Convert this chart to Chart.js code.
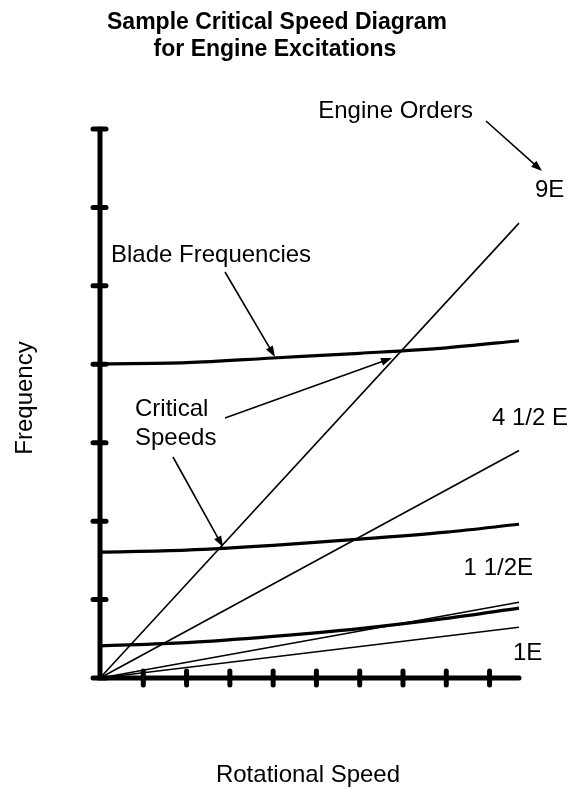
<!DOCTYPE html>
<html lang="en-US">
<head>
  <meta charset="utf-8">
  <title>Sample Critical Speed Diagram</title>
  <script src="https://cdn.jsdelivr.net/npm/chart.js@4.4.1/dist/chart.umd.min.js"></script>
  <style>
  body { margin: 0; background: #fff; }
  canvas { display: block; }
  </style>
</head>

<body>
  <canvas id="chart" width="572" height="789"></canvas>
  <script>
    // speed axis runs 0..9.68, frequency axis 0..7 (no tick labels in the original)
    var speedMax = 9.68;
    var speedTicks = [1, 2, 3, 4, 5, 6, 7, 8, 9];
    var freqTicks = [0, 1, 2, 3, 4, 5, 6, 7];

    var orderLabels = ['1E', '1 1/2E', '4 1/2 E', '9E'];
    var orderEndFreq = [0.647, 0.966, 2.90, 5.80];   // value of each line at speedMax

    var bladeSpeeds = [0, 2, 4, 6, 8, 9.68];
    var bladeHigh = [4.005, 4.02, 4.08, 4.14, 4.21, 4.30];
    var bladeMid = [1.605, 1.63, 1.69, 1.77, 1.86, 1.96];
    var bladeLow = [0.41, 0.45, 0.53, 0.63, 0.76, 0.89];

    var FONT = '"Liberation Sans", Arial, sans-serif';

    var datasets = [];
    orderEndFreq.forEach(function (f, i) {
      datasets.push({
        label: orderLabels[i],
        data: [{x: 0, y: 0}, {x: speedMax, y: f}],
        borderColor: '#000',
        borderWidth: 1.6,
        pointRadius: 0,
        clip: false
      });
    });
    [bladeHigh, bladeMid, bladeLow].forEach(function (arr, i) {
      datasets.push({
        label: 'blade ' + i,
        data: bladeSpeeds.map(function (s, j) { return {x: s, y: arr[j]}; }),
        borderColor: '#000',
        borderWidth: 3.2,
        pointRadius: 0,
        cubicInterpolationMode: 'monotone',
        clip: false
      });
    });

    function arrow(ctx, x1, y1, x2, y2) {
      var a = Math.atan2(y2 - y1, x2 - x1);
      var len = 11, half = 4;
      ctx.beginPath();
      ctx.moveTo(x1, y1);
      ctx.lineTo(x2 - Math.cos(a) * len * 0.8, y2 - Math.sin(a) * len * 0.8);
      ctx.stroke();
      ctx.beginPath();
      ctx.moveTo(x2, y2);
      ctx.lineTo(x2 - Math.cos(a) * len + Math.sin(a) * half, y2 - Math.sin(a) * len - Math.cos(a) * half);
      ctx.lineTo(x2 - Math.cos(a) * len - Math.sin(a) * half, y2 - Math.sin(a) * len + Math.cos(a) * half);
      ctx.closePath();
      ctx.fill();
    }

    var decor = {
      id: 'decor',
      afterDatasetsDraw: function (chart) {
        var ctx = chart.ctx;
        var xs = chart.scales.x, ys = chart.scales.y;
        ctx.save();
        ctx.strokeStyle = '#000';
        ctx.fillStyle = '#000';
        ctx.lineCap = 'round';
        ctx.lineWidth = 5;
        // axes
        ctx.beginPath();
        ctx.moveTo(xs.getPixelForValue(0), ys.getPixelForValue(7));
        ctx.lineTo(xs.getPixelForValue(0), ys.getPixelForValue(0));
        ctx.lineTo(xs.getPixelForValue(speedMax), ys.getPixelForValue(0));
        ctx.stroke();
        // tick bars crossing the axes
        var x0 = xs.getPixelForValue(0), y0 = ys.getPixelForValue(0);
        ys.ticks.forEach(function (t) {
          var y = ys.getPixelForValue(t.value);
          ctx.beginPath();
          ctx.moveTo(x0 - 7, y);
          ctx.lineTo(x0 + 6, y);
          ctx.stroke();
        });
        xs.ticks.forEach(function (t) {
          var x = xs.getPixelForValue(t.value);
          ctx.beginPath();
          ctx.moveTo(x, y0 - 7);
          ctx.lineTo(x, y0 + 7);
          ctx.stroke();
        });

        // arrows
        ctx.lineCap = 'butt';
        ctx.lineWidth = 1.6;
        arrow(ctx, 486, 121, 542, 171);
        arrow(ctx, 225, 272, 275, 357);
        arrow(ctx, 225, 418, 392, 358);
        arrow(ctx, 173, 457, 223, 547);

        // title
        ctx.textAlign = 'center';
        ctx.textBaseline = 'alphabetic';
        ctx.font = 'bold 23px ' + FONT;
        ctx.fillText('Sample Critical Speed Diagram', 277, 29);
        ctx.fillText('for Engine Excitations', 275, 56);

        ctx.font = '24px ' + FONT;
        ctx.fillText('Rotational Speed', 308, 782);
        ctx.textAlign = 'right';
        ctx.fillText('Engine Orders', 473, 118);
        ctx.fillText(orderLabels[1], 533, 575);
        ctx.textAlign = 'left';
        ctx.fillText(orderLabels[3], 535, 197);
        ctx.fillText(orderLabels[2], 492, 425);
        ctx.fillText(orderLabels[0], 513, 660);
        ctx.fillText('Blade Frequencies', 111, 262);
        ctx.fillText('Critical', 135, 416);
        ctx.fillText('Speeds', 135, 445);

        ctx.translate(32, 398);
        ctx.rotate(-Math.PI / 2);
        ctx.textAlign = 'center';
        ctx.fillText('Frequency', 0, 0);
        ctx.restore();
      }
    };

    var config = {
      type: 'scatter',
      data: { datasets: datasets },
      options: {
        responsive: false,
        animation: false,
        showLine: true,
        layout: {
          padding: { left: 92, right: 53, top: 129, bottom: 103 }
        },
        plugins: {
          legend: { display: false },
          title: { display: false },
          tooltip: { enabled: false }
        },
        scales: {
          x: {
            type: 'linear',
            min: 0,
            max: speedMax,
            ticks: { display: false },
            afterBuildTicks: function (scale) {
              scale.ticks = speedTicks.map(function (v) { return {value: v}; });
            },
            grid: { display: false },
            border: { display: false }
          },
          y: {
            type: 'linear',
            min: 0,
            max: 7,
            ticks: { display: false },
            afterBuildTicks: function (scale) {
              scale.ticks = freqTicks.map(function (v) { return {value: v}; });
            },
            grid: { display: false },
            border: { display: false }
          }
        }
      },
      plugins: [decor]
    };

    var ctx = document.getElementById('chart').getContext('2d');
    window.myChart = new Chart(ctx, config);
  </script>
</body>
</html>
